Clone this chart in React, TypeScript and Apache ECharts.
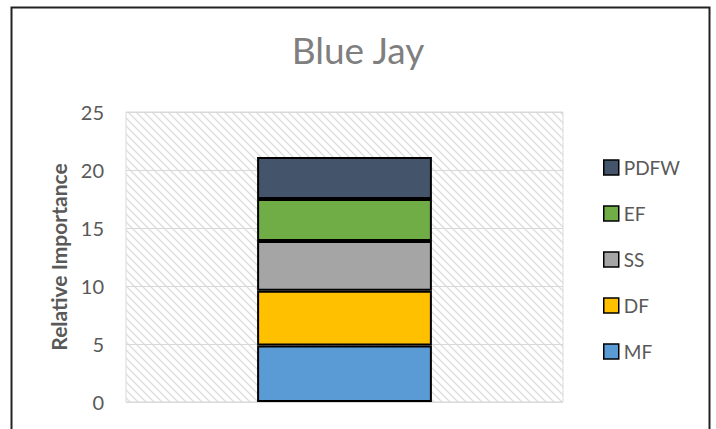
import React, { useEffect, useRef } from "react";
import * as echarts from "echarts";

const categories = ["Blue Jay"];
const seriesNames = ["MF", "DF", "SS", "EF", "PDFW"];
const mfValues = [4.88];
const dfValues = [4.71];
const ssValues = [4.29];
const efValues = [3.62];
const pdfwValues = [3.62];
const seriesColors = ["#5b9bd5", "#ffc000", "#a5a5a5", "#70ad47", "#44546a"];
const legendOrder = ["PDFW", "EF", "SS", "DF", "MF"];
const yTicks = { min: 0, max: 25, interval: 5 };

function makePattern(): HTMLCanvasElement {
  const c = document.createElement("canvas");
  c.width = 8;
  c.height = 8;
  const ctx = c.getContext("2d")!;
  ctx.fillStyle = "#ffffff";
  ctx.fillRect(0, 0, 8, 8);
  ctx.strokeStyle = "#dcdcdc";
  ctx.lineWidth = 1.3;
  ctx.beginPath();
  ctx.moveTo(-2, -2);
  ctx.lineTo(10, 10);
  ctx.moveTo(-10, -2);
  ctx.lineTo(2, 10);
  ctx.moveTo(6, -2);
  ctx.lineTo(18, 10);
  ctx.stroke();
  return c;
}

export default function App() {
  const ref = useRef<HTMLDivElement>(null);
  useEffect(() => {
    if (!ref.current) return;
    const chart = echarts.init(ref.current, undefined, { renderer: "svg" });
    const allValues = [mfValues, dfValues, ssValues, efValues, pdfwValues];
    const font = "Lato, 'Open Sans', sans-serif";
    chart.setOption({
      animation: false,
      backgroundColor: "#ffffff",
      title: {
        text: categories[0],
        left: "center",
        top: 26,
        textStyle: { fontFamily: font, fontSize: 37, fontWeight: "normal", color: "#7f7f7f" },
      },
      graphic: [
        {
          type: "rect",
          left: 9,
          top: 5,
          shape: { width: 698, height: 440 },
          style: { fill: "none", stroke: "#222222", lineWidth: 2 },
          silent: true,
        },
      ],
      legend: {
        data: legendOrder,
        orient: "vertical",
        left: 598,
        top: 153,
        itemWidth: 15,
        itemHeight: 15,
        itemGap: 27,
        icon: "rect",
        itemStyle: { borderColor: "#000000", borderWidth: 1.5 },
        textStyle: { fontFamily: font, fontSize: 19, color: "#595959", lineHeight: 18 },
      },
      grid: {
        left: 126,
        right: 153,
        top: 112,
        bottom: 27,
        show: true,
        borderColor: "#d9d9d9",
        borderWidth: 1,
        backgroundColor: { image: makePattern(), repeat: "repeat" } as any,
      },
      xAxis: {
        type: "category",
        data: categories,
        axisLine: { show: false },
        axisTick: { show: false },
        axisLabel: { show: false },
      },
      yAxis: {
        type: "value",
        min: yTicks.min,
        max: yTicks.max,
        interval: yTicks.interval,
        name: "Relative Importance",
        nameLocation: "middle",
        nameGap: 57,
        nameTextStyle: { fontFamily: font, fontSize: 21, fontWeight: "bold", color: "#595959" },
        axisLine: { show: false },
        axisTick: { show: false },
        axisLabel: { fontFamily: font, fontSize: 20, color: "#595959", margin: 22 },
        splitLine: { lineStyle: { color: "#d9d9d9", width: 1 } },
      },
      series: seriesNames.map((name, i) => ({
        name,
        type: "bar",
        stack: "total",
        barWidth: "40%",
        data: allValues[i],
        itemStyle: { color: seriesColors[i], borderColor: "#000000", borderWidth: 2 },
      })),
    });
    return () => chart.dispose();
  }, []);
  return (
    <div
      ref={ref}
      style={{ position: "absolute", left: 0, top: 0, width: 716, height: 429 }}
    />
  );
}
